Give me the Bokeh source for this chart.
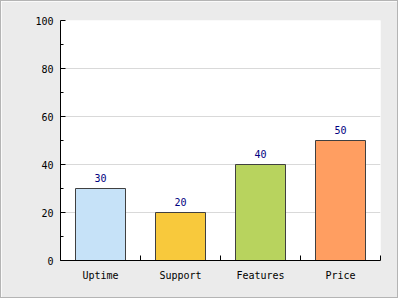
import numpy as np
from bokeh.plotting import figure
from bokeh.models import ColumnDataSource, FixedTicker, Range1d
from bokeh.core.properties import value
from bokeh.embed import file_html
from bokeh.resources import INLINE

categories = ["Uptime", "Support", "Features", "Price"]
values = [30, 20, 40, 50]
colors = ["#c6e2f8", "#f8c93c", "#b8d35e", "#ff9e61"]
y_ticks = [0, 20, 40, 60, 80, 100]
y_minor = [10, 30, 50, 70, 90]

n = len(categories)
centers = list(np.arange(n) + 0.5)
src = ColumnDataSource(dict(x=centers, top=values, color=colors,
                            label=[str(v) for v in values]))

FONT = "DejaVu Sans Mono"

p = figure(width=398, height=298, output_backend="svg", toolbar_location=None,
           x_range=Range1d(0, n), y_range=Range1d(0, 100),
           min_border_left=59, min_border_right=19, min_border_top=19, min_border_bottom=39)
p.styles = {"border": "1px solid #b4b4b4"}
p.background_fill_color = "white"
p.border_fill_color = "#ebebeb"
p.outline_line_color = None

p.vbar(x="x", top="top", width=0.625, bottom=0, source=src, fill_color="color",
       line_color="#404040", line_width=1)
p.text(x="x", y="top", text="label", source=src, y_offset=-7,
       text_align="center", text_baseline="bottom", text_color="#000080",
       text_font=value(FONT), text_font_size="10px")

# y axis
p.yaxis.ticker = FixedTicker(ticks=y_ticks, minor_ticks=y_minor)
p.yaxis.major_tick_in = 5
p.yaxis.major_tick_out = 0
p.yaxis.minor_tick_in = 3
p.yaxis.minor_tick_out = 0
p.yaxis.axis_line_color = "black"
p.yaxis.major_tick_line_color = "black"
p.yaxis.minor_tick_line_color = "black"
p.yaxis.major_label_text_font = FONT
p.yaxis.major_label_text_font_size = "10px"
p.yaxis.major_label_text_color = "black"
p.yaxis.major_label_standoff = 7

# x axis
p.xaxis.ticker = FixedTicker(ticks=centers, minor_ticks=list(range(n + 1)))
p.xaxis.major_label_overrides = {c: lab for c, lab in zip(centers, categories)}
p.xaxis.major_tick_in = 0
p.xaxis.major_tick_out = 0
p.xaxis.minor_tick_in = 5
p.xaxis.minor_tick_out = 0
p.xaxis.axis_line_color = "black"
p.xaxis.minor_tick_line_color = "black"
p.xaxis.major_label_text_font = FONT
p.xaxis.major_label_text_font_size = "10px"
p.xaxis.major_label_text_color = "black"
p.xaxis.major_label_standoff = 9

p.xgrid.grid_line_color = None
p.ygrid.ticker = FixedTicker(ticks=y_ticks)
p.ygrid.grid_line_color = "#d9d9d9"

open("out.html", "w").write(file_html(p, INLINE))
